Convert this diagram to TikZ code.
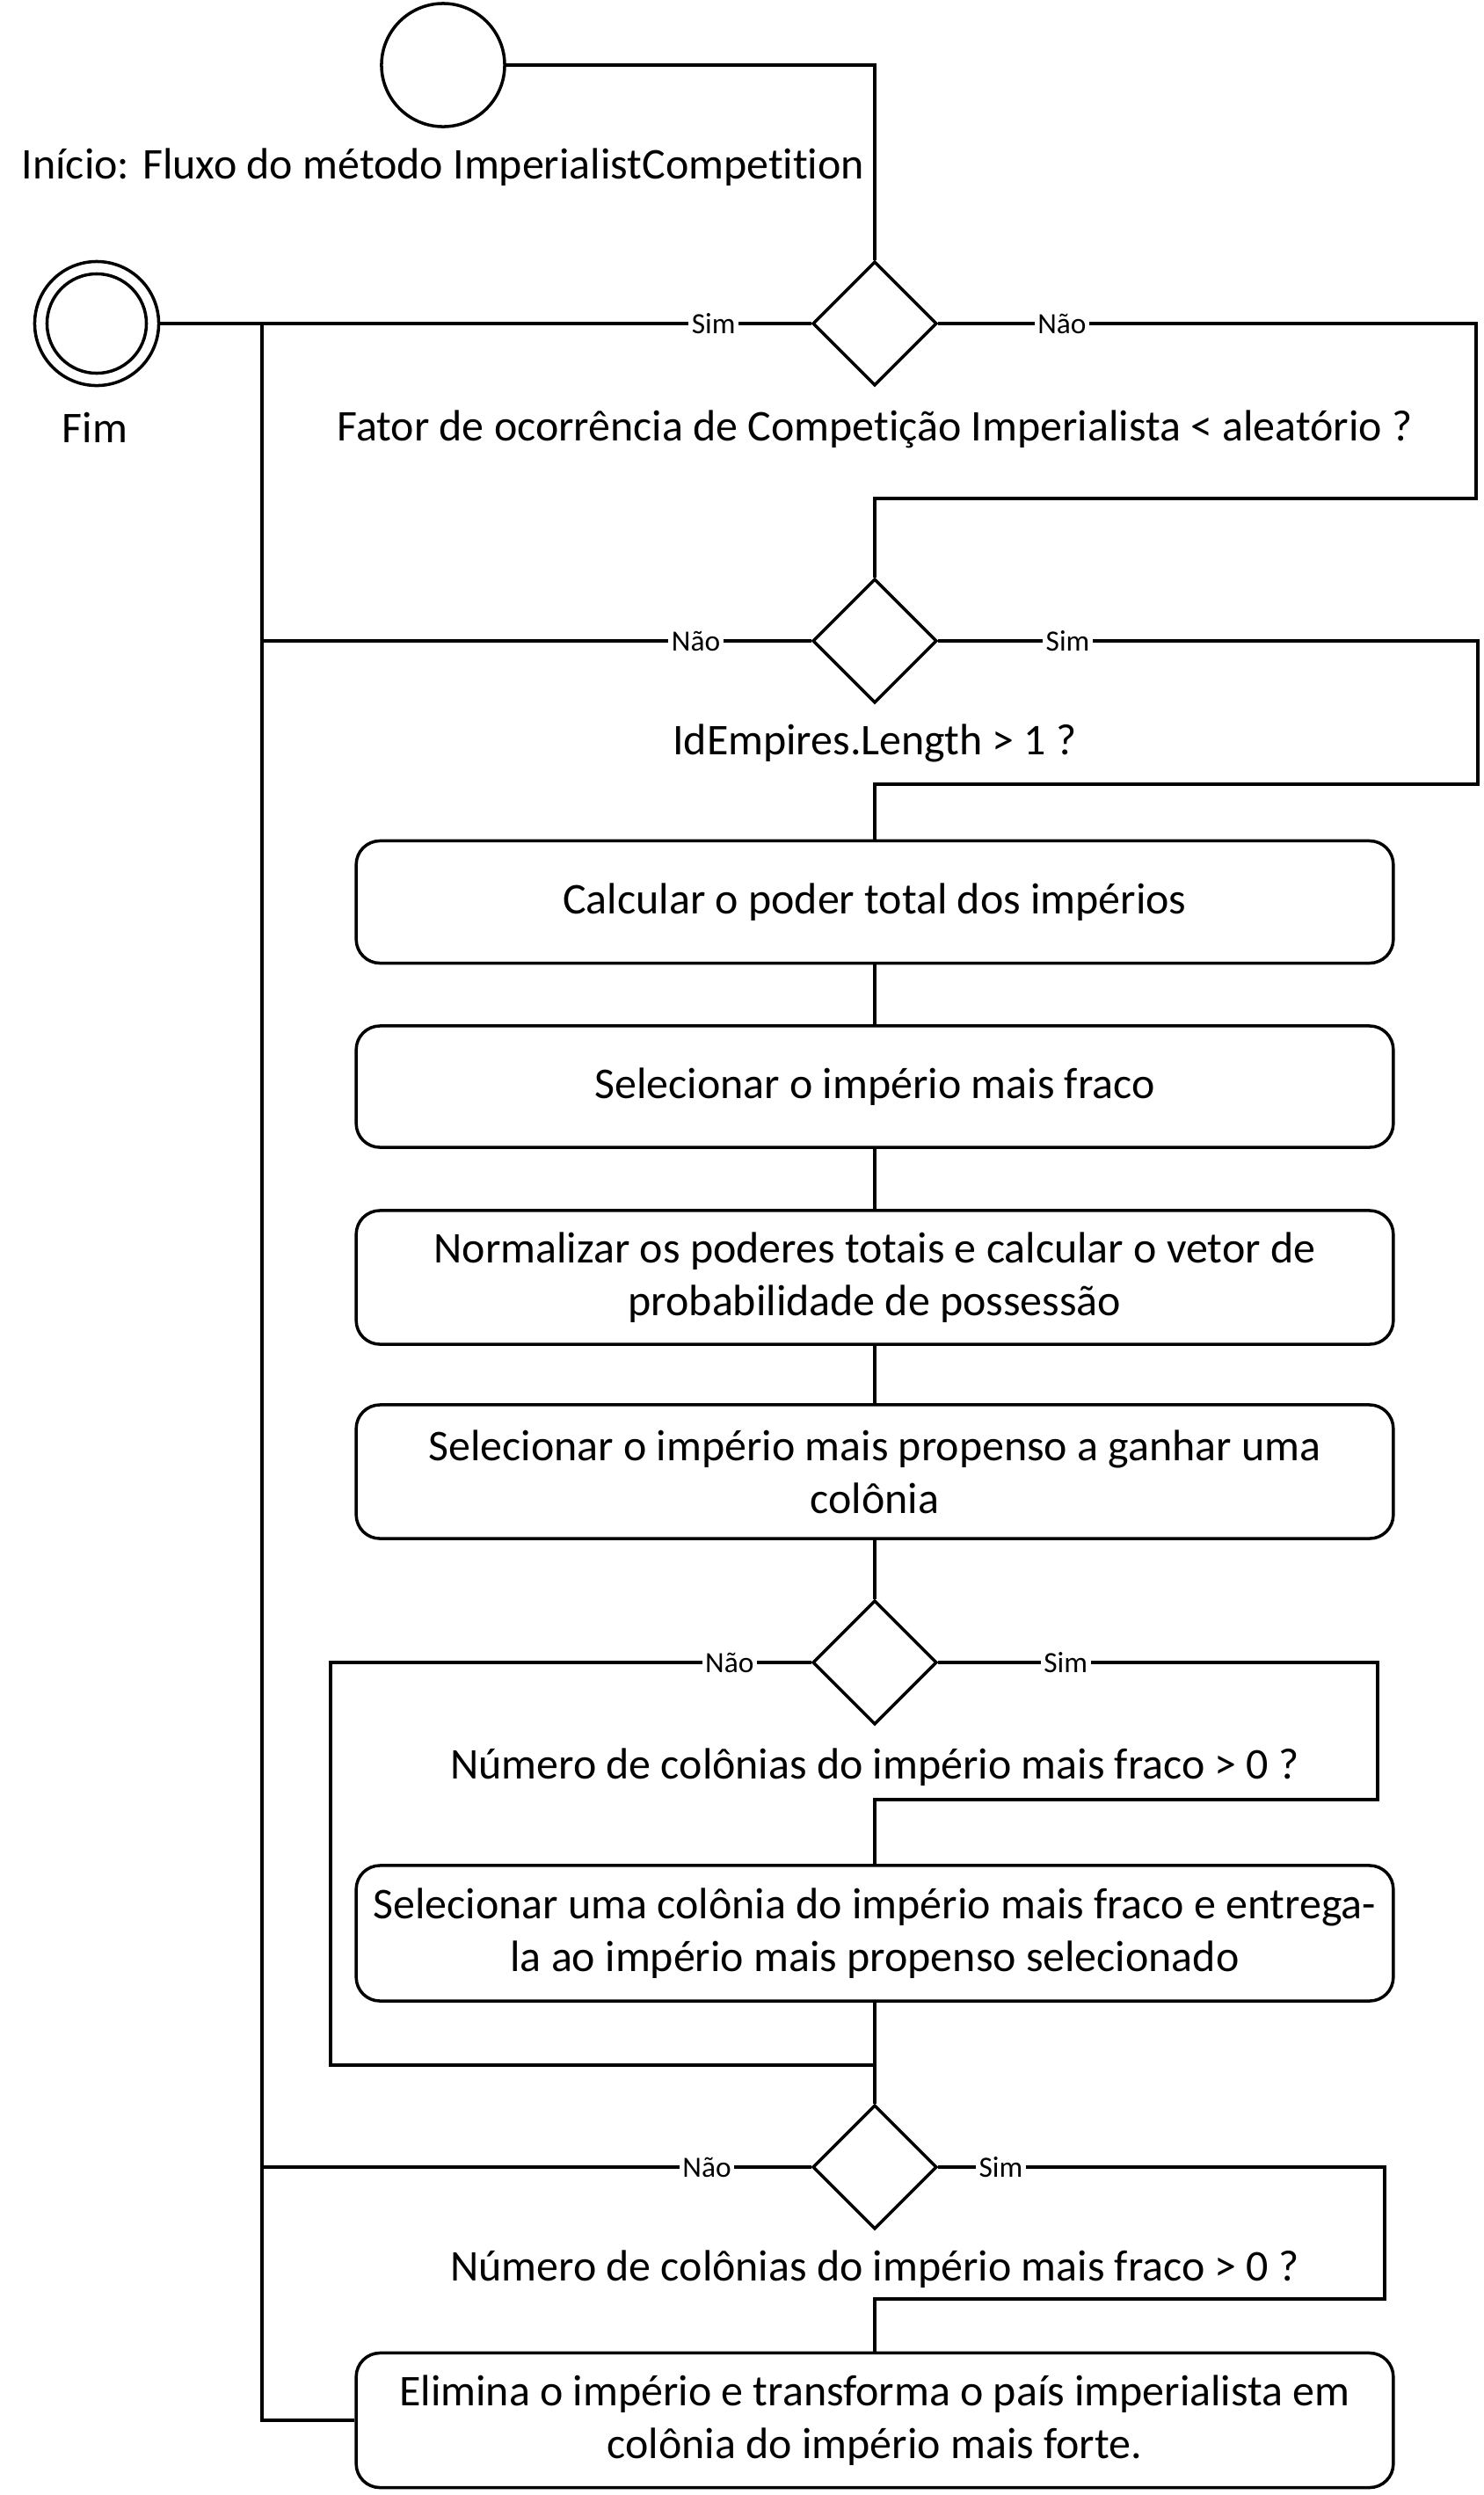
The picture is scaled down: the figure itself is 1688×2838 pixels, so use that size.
\documentclass[tikz,border=0pt]{standalone}
\usepackage{fontspec}
\setmainfont{Carlito}[Ligatures=NoCommon]
\usetikzlibrary{shapes.geometric}

\begin{document}
\begin{tikzpicture}[x=0.01cm,y=-0.01cm,line width=1pt,
	acao/.style={draw,rounded corners=0.27cm,minimum width=11.79cm,align=center,font=\fontsize{14.2}{17.1}\selectfont},
	decisao/.style={draw,diamond,minimum width=1.41cm,minimum height=1.41cm,inner sep=0pt},
	texto/.style={font=\fontsize{14.2}{17.1}\selectfont},
	ramo/.style={fill=white,inner sep=1pt,font=\fontsize{9.5}{11}\selectfont}]
	\useasboundingbox (0,0) rectangle (1688,2838);
	
	%start and end
	\node[circle,draw,minimum size=1.40cm] (start) at (504,74) {};
	\node[texto] (startlbl) at (504,190) {Início: Fluxo do método ImperialistCompetition};
	\node[circle,draw,minimum size=1.41cm] (fim) at (110,368) {};
	\node[circle,draw,minimum size=1.13cm] (fimin) at (fim) {};
	\node[texto] (fimlbl) at (108,486) {Fim};
	
	%decisions and actions
	\node[decisao] (d1) at (995,368) {};
	\node[texto]   (q1) at (995,488) {Fator de ocorrência de Competição Imperialista < aleatório ?};
	\node[decisao] (d2) at (995,729) {};
	\node[texto]   (q2) at (995,845) {IdEmpires.Length > 1 ?};
	\node[acao,minimum height=1.39cm] (b1) at (995,1026) {Calcular o poder total dos impérios};
	\node[acao,minimum height=1.38cm] (b2) at (995,1236) {Selecionar o império mais fraco};
	\node[acao,minimum height=1.52cm] (b3) at (995,1453) {Normalizar os poderes totais e calcular o vetor de\\probabilidade de possessão};
	\node[acao,minimum height=1.52cm] (b4) at (995,1674) {Selecionar o império mais propenso a ganhar uma\\colônia};
	\node[decisao] (d3) at (995,1891) {};
	\node[texto]   (q3) at (995,2010) {Número de colônias do império mais fraco > 0 ?};
	\node[acao,minimum height=1.54cm] (b5) at (995,2199) {Selecionar uma colônia do império mais fraco e entrega-\\la ao império mais propenso selecionado};
	\node[decisao] (d4) at (995,2465) {};
	\node[texto]   (q4) at (995,2581) {Número de colônias do império mais fraco > 0 ?};
	\node[acao,minimum height=1.53cm] (b6) at (995,2753) {Elimina o império e transforma o país imperialista em\\colônia do império mais forte.};
	
	%bend points
	\coordinate (bus) at (298,368);
	\coordinate (r1) at (1679,567);
	\coordinate (r2) at (1681,892);
	\coordinate (l3) at (376,2349);
	\coordinate (r3) at (1567,2047);
	\coordinate (r4) at (1575,2615);
	
	%lines
	\draw (start.east) -| (d1.north);
	\draw (d1.west) -- node[ramo,pos=0.15] {Sim} (fim.east);
	\draw (bus) |- (b6.west);
	\draw (d1.east) -- node[ramo,pos=0.23] {Não} (d1.east -| r1) -- (r1) -| (d2.north);
	%
	\draw (d2.west) -- node[ramo,pos=0.21] {Não} (d2.west -| bus);
	\draw (d2.east) -- node[ramo,pos=0.24] {Sim} (d2.east -| r2) -- (r2) -| (b1.north);
	%
	\draw (b1.south) -- (b2.north);
	\draw (b2.south) -- (b3.north);
	\draw (b3.south) -- (b4.north);
	\draw (b4.south) -- (d3.north);
	%
	\draw (d3.west) -- node[ramo,pos=0.17] {Não} (d3.west -| l3) -- (l3) -- (l3 -| d3.north);
	\draw (d3.east) -- node[ramo,pos=0.29] {Sim} (d3.east -| r3) -- (r3) -| (b5.north);
	\draw (b5.south) -- (d4.north);
	%
	\draw (d4.west) -- node[ramo,pos=0.19] {Não} (d4.west -| bus);
	\draw (d4.east) -- node[ramo,pos=0.14] {Sim} (d4.east -| r4) -- (r4) -| (b6.north);
\end{tikzpicture}
\end{document}
